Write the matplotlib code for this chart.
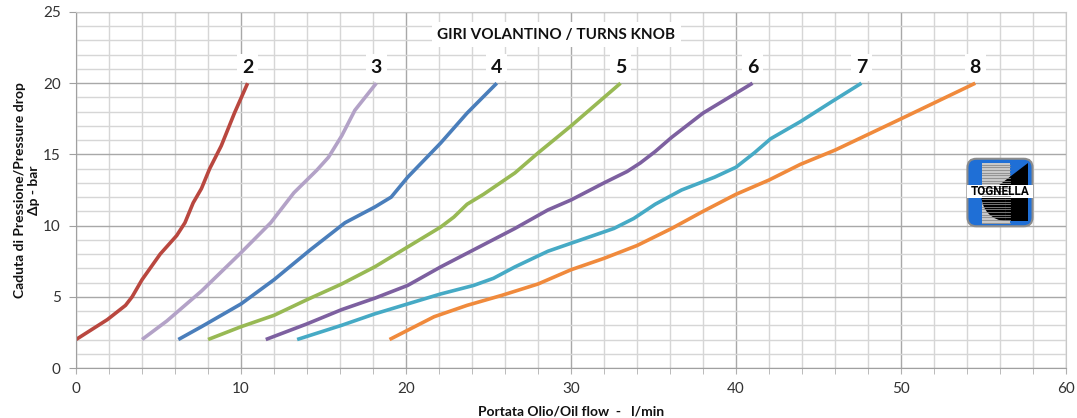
import numpy as np
import matplotlib.pyplot as plt
from matplotlib.patches import FancyBboxPatch, Rectangle, Polygon, Wedge
from matplotlib.ticker import MultipleLocator

plt.rcParams['font.family'] = ['Lato', 'DejaVu Sans']

# flow (l/min) vs pressure drop (bar) for each number of knob turns
t2_x = [0.0, 1.9, 3.0, 3.4, 4.0, 5.1, 6.1, 6.6, 7.1, 7.6, 8.1, 8.8, 9.6, 10.4]
t2_y = [2.0, 3.4, 4.4, 5.0, 6.2, 8.0, 9.3, 10.2, 11.6, 12.6, 14.0, 15.6, 17.9, 20.0]

t3_x = [4.0, 5.5, 7.6, 10.0, 11.8, 13.2, 14.6, 15.3, 16.1, 16.9, 18.2]
t3_y = [2.0, 3.3, 5.4, 8.1, 10.2, 12.3, 13.9, 14.8, 16.3, 18.1, 20.0]

t4_x = [6.2, 7.6, 10.0, 12.0, 14.2, 16.3, 18.1, 19.1, 20.1, 22.1, 23.7, 25.5]
t4_y = [2.0, 2.9, 4.5, 6.2, 8.3, 10.2, 11.3, 12.0, 13.4, 15.8, 17.9, 20.0]

t5_x = [8.0, 10.0, 12.0, 14.0, 16.1, 18.1, 20.1, 22.1, 22.9, 23.7, 24.7, 26.6, 28.0, 30.0, 31.4, 33.0]
t5_y = [2.0, 2.9, 3.7, 4.8, 5.9, 7.1, 8.5, 9.9, 10.6, 11.5, 12.2, 13.7, 15.1, 17.0, 18.4, 20.0]

t6_x = [11.5, 14.0, 16.1, 18.1, 20.1, 22.1, 24.1, 26.6, 28.6, 30.0, 32.0, 33.4, 34.2, 35.1, 36.1, 38.0, 40.0, 41.0]
t6_y = [2.0, 3.1, 4.1, 4.9, 5.8, 7.1, 8.3, 9.8, 11.1, 11.8, 13.0, 13.8, 14.4, 15.2, 16.2, 17.9, 19.3, 20.0]

t7_x = [13.4, 16.1, 18.1, 20.1, 22.1, 24.1, 25.3, 26.6, 28.6, 30.6, 32.6, 33.8, 35.1, 36.7, 38.7, 40.0, 41.1, 42.1, 43.9, 45.8, 47.6]
t7_y = [2.0, 3.0, 3.8, 4.5, 5.2, 5.8, 6.3, 7.1, 8.2, 9.0, 9.8, 10.5, 11.5, 12.5, 13.4, 14.1, 15.1, 16.1, 17.3, 18.7, 20.0]

t8_x = [19.0, 21.7, 23.7, 25.8, 28.0, 30.0, 32.0, 34.0, 36.1, 38.0, 40.0, 42.0, 43.9, 46.0, 50.0, 54.5]
t8_y = [2.0, 3.6, 4.4, 5.1, 5.9, 6.9, 7.7, 8.6, 9.8, 11.0, 12.2, 13.2, 14.3, 15.3, 17.5, 20.0]

turns = ["2", "3", "4", "5", "6", "7", "8"]
label_y = 21.1

series = [(t2_x, t2_y, "#B9473F"), (t3_x, t3_y, "#B3A2C7"), (t4_x, t4_y, "#4A7EBB"),
          (t5_x, t5_y, "#98B954"), (t6_x, t6_y, "#7D60A0"), (t7_x, t7_y, "#46AAC5"),
          (t8_x, t8_y, "#F08A3C")]

fig = plt.figure(figsize=(10.77, 4.18), dpi=100)
ax = fig.add_axes([0.0706, 0.1196, 0.9192, 0.8517])

ax.set_xlim(0, 60)
ax.set_ylim(0, 25)
ax.xaxis.set_major_locator(MultipleLocator(10))
ax.xaxis.set_minor_locator(MultipleLocator(2))
ax.yaxis.set_major_locator(MultipleLocator(5))
ax.yaxis.set_minor_locator(MultipleLocator(1))
ax.grid(which="minor", color="#D6D6D6", lw=1.0)
ax.grid(which="major", color="#A8A8A8", lw=1.0)
ax.set_axisbelow(True)
for side in ["top", "right"]:
    ax.spines[side].set_color("#C8C8C8")
for side in ["left", "bottom"]:
    ax.spines[side].set_color("#A0A0A0")
ax.tick_params(axis="x", which="both", direction="out", length=4, color="#B0B0B0",
               labelsize=11, labelcolor="#333333", pad=6)
ax.tick_params(axis="y", which="major", direction="out", length=5, color="#A0A0A0",
               labelsize=11, labelcolor="#333333", pad=6)
ax.tick_params(axis="y", which="minor", length=0)

for (xs, ys, c), name in zip(series, turns):
    ax.plot(xs, ys, color=c, lw=2.6, solid_capstyle="butt", solid_joinstyle="round")
    ax.text(xs[-1], label_y, name, ha="center", va="center", fontsize=14,
            fontweight="bold", color="#111111",
            bbox=dict(boxstyle="square,pad=0.25", fc="white", ec="none"))

ax.text(29.1, 23.4, "GIRI VOLANTINO / TURNS KNOB", ha="center", va="center",
        fontsize=11, fontweight="bold", color="#111111",
        bbox=dict(boxstyle="square,pad=0.35", fc="white", ec="none"))

ax.set_xlabel("Portata Olio/Oil flow  -   l/min", fontsize=10, fontweight="bold",
              color="#111111", labelpad=7)
ax.set_ylabel("Caduta di Pressione/Pressure drop\n\u0394p - bar", fontsize=10,
              fontweight="bold", color="#111111", linespacing=1.25, labelpad=2)

# logo badge
lg = fig.add_axes([963 / 1077, 1 - 230 / 418, 74 / 1077, 75 / 418])
lg.set_xlim(0, 1)
lg.set_ylim(0, 1)
lg.axis("off")
lg.add_patch(FancyBboxPatch((0.06, 0.05), 0.88, 0.9, boxstyle="round,pad=0,rounding_size=0.12",
                            fc="#1F6FD6", ec="#8C8C8C", lw=1.5))
lg.add_patch(Rectangle((0.25, 0.08), 0.38, 0.82, fc="#C8C8C8", ec="none"))
for yy in np.arange(0.1, 0.9, 0.035):
    lg.plot([0.25, 0.63], [yy, yy], color="#8A8A8A", lw=0.6)
lg.add_patch(Polygon([(0.88, 0.9), (0.88, 0.55), (0.42, 0.55)], fc="black", ec="none"))
lg.add_patch(Rectangle((0.58, 0.12), 0.3, 0.33, fc="black", ec="none"))
lg.add_patch(Wedge((0.58, 0.45), 0.33, 180, 270, fc="black", ec="none"))
lg.add_patch(Rectangle((0.06, 0.43), 0.88, 0.17, fc="white", ec="none"))
lg.text(0.5, 0.515, "TOGNELLA", ha="center", va="center", fontsize=8.5,
        fontweight="bold", color="black", family=["Roboto", "DejaVu Sans"])

fig.savefig("out.png", dpi=100)
